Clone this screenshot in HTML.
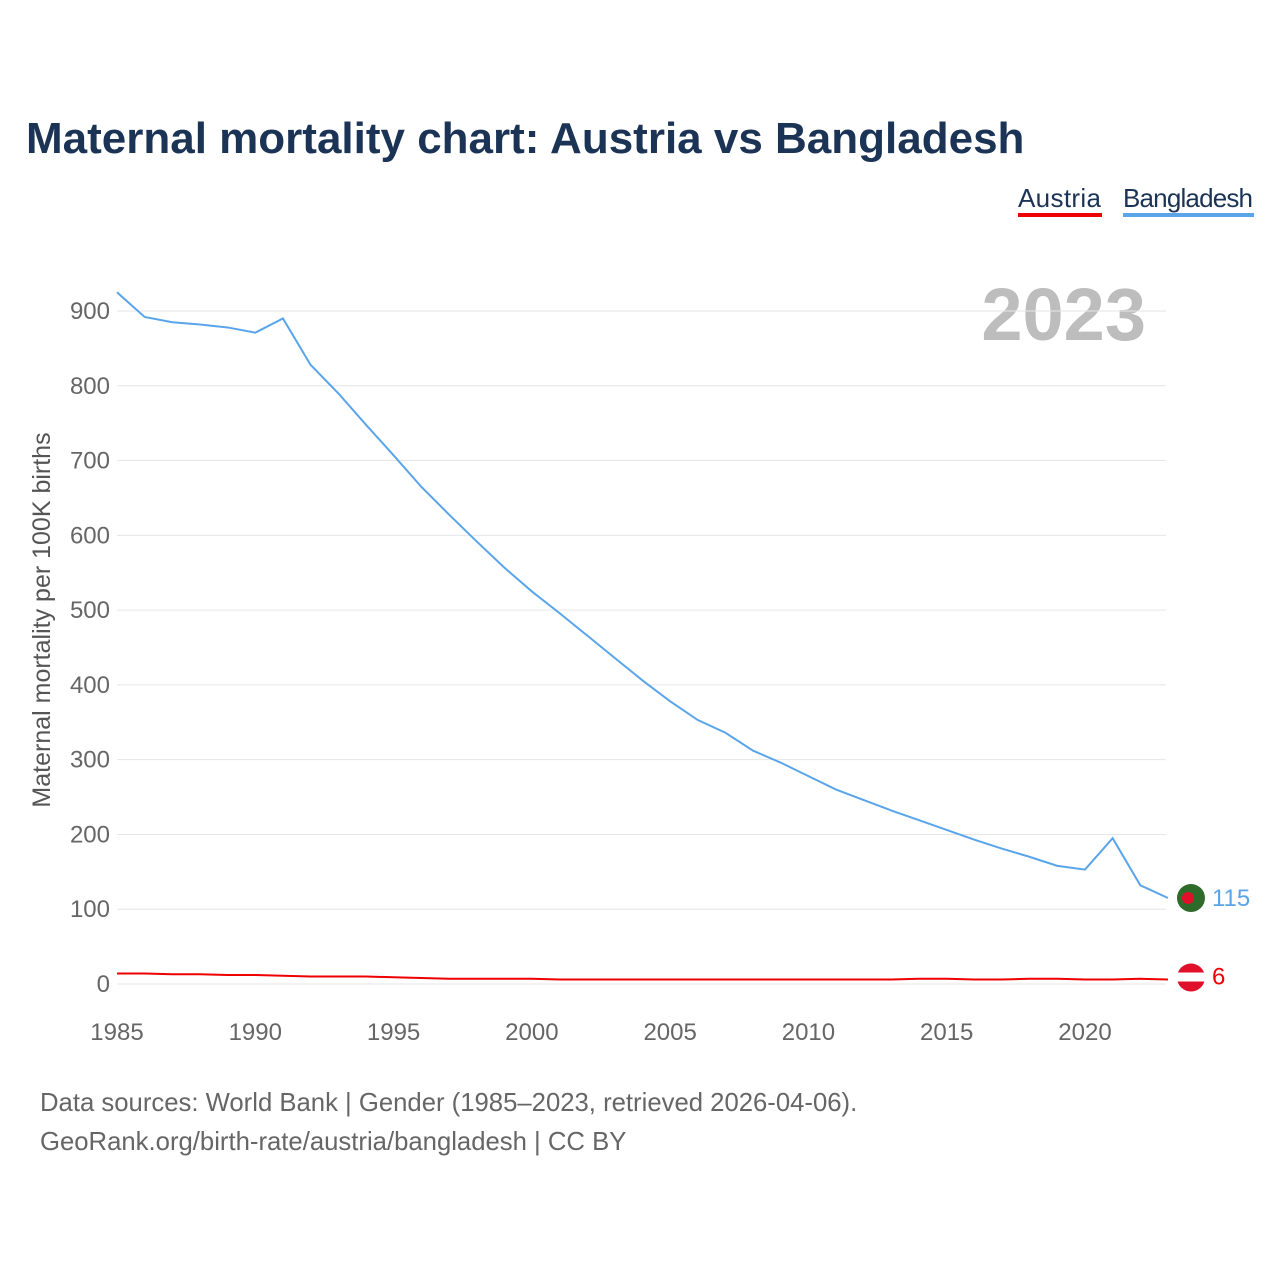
<!DOCTYPE html>
<html><head><meta charset="utf-8"><style>
body{margin:0;background:#fff;font-family:"Liberation Sans",sans-serif;}
#wrap{position:relative;width:1280px;height:1280px;overflow:hidden}
</style></head><body>
<div id="wrap">
<svg id="chart" width="1280" height="1280">
<text x="26" y="153" font-size="44" font-weight="bold" fill="#1b3355">Maternal mortality chart: Austria vs Bangladesh</text>
<g>
<text x="1018" y="207" font-size="26" fill="#1b3355" textLength="83">Austria</text>
<rect x="1018" y="213" width="84" height="4" fill="#ee0000"/>
<text x="1123" y="207" font-size="26" fill="#1b3355" textLength="130">Bangladesh</text>
<rect x="1123" y="213" width="131" height="4" fill="#5aa5ea"/>
</g>
<text x="1146" y="340" font-size="74" font-weight="bold" fill="#bdbdbd" text-anchor="end">2023</text>
<g id="grid"></g><g id="series"></g>
<text transform="translate(50,620) rotate(-90)" font-size="25" fill="#555" text-anchor="middle">Maternal mortality per 100K births</text>
<text x="40" y="1111" font-size="25.7" fill="#666">Data sources: World Bank | Gender (1985–2023, retrieved 2026-04-06).</text>
<text x="40" y="1150" font-size="25.7" fill="#666">GeoRank.org/birth-rate/austria/bangladesh | CC BY</text>
</svg></div>
<script>
const years=[];for(let y=1985;y<=2023;y++)years.push(y);
const bangladesh=[925,892,885,882,878,871,890,828,790,748,707,665,628,592,557,525,496,466,436,406,378,353,336,312,296,278,260,246,232,219,206,193,181,170,158,153,195,132,115];
const austria=[14,14,13,13,12,12,11,10,10,10,9,8,7,7,7,7,6,6,6,6,6,6,6,6,6,6,6,6,6,7,7,6,6,7,7,6,6,7,6];
const yTicks=[0,100,200,300,400,500,600,700,800,900];
const xTicks=[1985,1990,1995,2000,2005,2010,2015,2020];
const NS="http://www.w3.org/2000/svg";
const xs=v=>117+(v-1985)*(1085-117)/35;
const ys=v=>984-v*(984-311)/900;
function mk(t,a,p){const e=document.createElementNS(NS,t);for(const k in a)e.setAttribute(k,a[k]);p.appendChild(e);return e;}
const g=document.getElementById('grid'),s=document.getElementById('series');
yTicks.forEach(v=>{
 const l=mk('line',{x1:117,x2:1166,y1:ys(v),y2:ys(v),stroke:'#e6e6e6','stroke-width':1},g);
 
 
 const t=mk('text',{x:110,y:ys(v)+8,'font-size':24,fill:'#666','text-anchor':'end'},g);t.textContent=v;
 
 
});
xTicks.forEach(v=>{
 const t=mk('text',{x:xs(v),y:1040,'font-size':24,fill:'#666','text-anchor':'middle'},g);t.textContent=v;
 
 
});
function line(arr,col,name){
 const p=mk('polyline',{points:arr.map((v,i)=>xs(years[i])+','+ys(v)).join(' '),fill:'none',stroke:col,'stroke-width':2},s);
 
 
}
line(bangladesh,'#5aa5ea','bangladesh-line');
line(austria,'#ee0000','austria-line');
const lx=xs(2023)+23;
const bv=bangladesh[bangladesh.length-1],av=austria[austria.length-1];
const bm=mk('circle',{cx:lx,cy:ys(bv),r:14,fill:'#2e6b2a'},s);


const bd=mk('circle',{cx:lx-3,cy:ys(bv),r:6,fill:'#e0102a'},s);


const am=mk('circle',{cx:lx,cy:ys(av)-2,r:14,fill:'#e0102a'},s);


const ab=mk('rect',{x:lx-14,y:ys(av)-7,width:28,height:9,fill:'#fff'},s);


const bt=mk('text',{x:lx+21,y:ys(bv)+8,'font-size':24,fill:'#5aa5ea'},s);bt.textContent=bv;


const at=mk('text',{x:lx+21,y:ys(av)+5,'font-size':24,fill:'#ee0000'},s);at.textContent=av;


</script>
</body></html>
